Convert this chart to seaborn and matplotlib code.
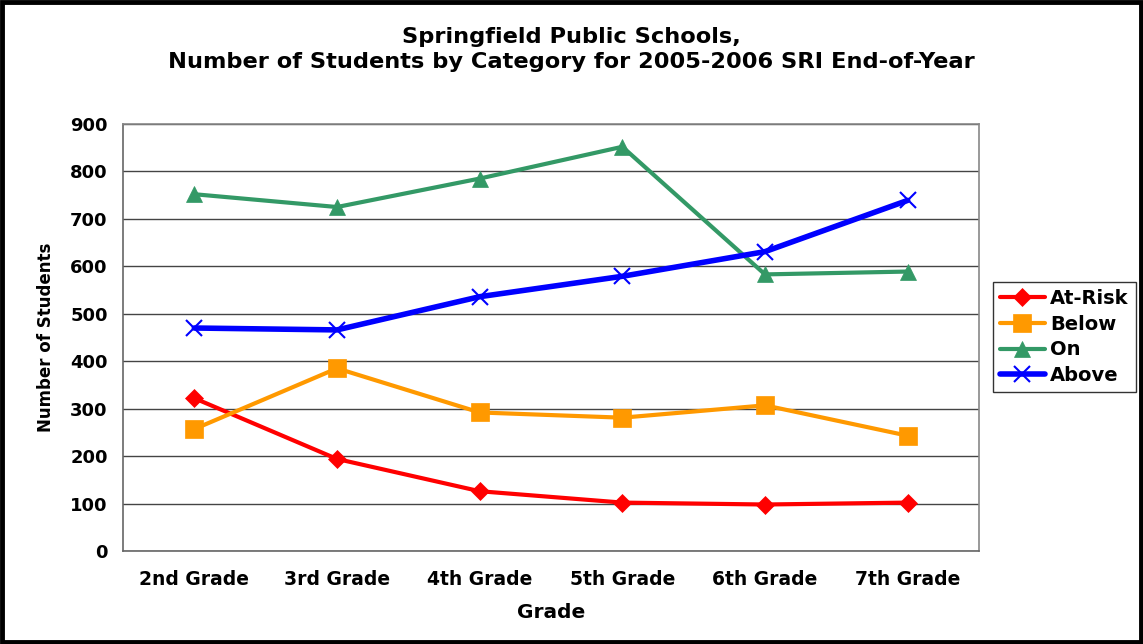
import matplotlib
matplotlib.use("Agg")
import matplotlib.pyplot as plt
import seaborn as sns
import pandas as pd
import numpy as np
from matplotlib.patches import Rectangle

grades = ["2nd Grade", "3rd Grade", "4th Grade", "5th Grade", "6th Grade", "7th Grade"]
at_risk = [322, 194, 126, 102, 98, 102]
below = [257, 385, 292, 281, 307, 243]
on_level = [752, 725, 785, 852, 583, 589]
above = [470, 466, 536, 579, 631, 739]

series_names = ["At-Risk", "Below", "On", "Above"]
series_vals = [at_risk, below, on_level, above]
colors = ["#FF0000", "#FF9900", "#339966", "#0000FF"]
markers = ["D", "s", "^", "x"]
msizes = [9, 12.5, 12, 12]
lws = [3, 3, 3, 4]

sns.set_style("white")
plt.rcParams['font.family'] = ['DejaVu Sans']
plt.rcParams['text.color'] = 'black'
plt.rcParams['axes.labelcolor'] = 'black'
plt.rcParams['xtick.color'] = 'black'
plt.rcParams['ytick.color'] = 'black'

fig = plt.figure(figsize=(11.43, 6.44), dpi=100)
ax = fig.add_axes([123/1143, 1-551/644, (979-123)/1143, (551-124)/644])

for name, vals, c, m, ms, lw in zip(series_names, series_vals, colors, markers, msizes, lws):
    df = pd.DataFrame({"x": np.arange(len(grades)), "y": vals})
    sns.lineplot(data=df, x="x", y="y", ax=ax, color=c, marker=m, markersize=ms,
                 linewidth=lw, label=name, markeredgecolor=c,
                 markeredgewidth=(1.5 if m == "x" else 0.5))

ax.set_xlim(-0.5, 5.5)
ax.set_ylim(0, 900)
ax.set_yticks(np.arange(0, 901, 100))
ax.set_xticks(np.arange(len(grades)))
ax.set_xticklabels(grades, fontsize=13.5, fontweight="bold")
ax.set_xticks(np.arange(-0.5, 6, 1), minor=True)
ax.tick_params(axis="x", which="major", length=0, pad=14, labelcolor="black")
ax.tick_params(axis="x", which="minor", length=6, color="#666666", direction="out")
ax.tick_params(axis="y", length=6, color="#666666", direction="out", pad=5, labelcolor="black")
for lab in ax.get_yticklabels():
    lab.set_fontsize(13)
    lab.set_fontweight("bold")
ax.yaxis.grid(True, color="#444444", linewidth=1)
ax.set_axisbelow(True)
for s in ax.spines.values():
    s.set_color("#888888")
    s.set_linewidth(1.2)
ax.spines["left"].set_color("#666666")
ax.spines["bottom"].set_color("#666666")

ax.set_xlabel("Grade", fontsize=14.5, fontweight="bold", labelpad=10)
ax.set_ylabel("Number of Students", fontsize=12, fontweight="bold", labelpad=11)

fig.text(0.5, 1-37/644, "Springfield Public Schools,", ha="center", va="center",
         fontsize=16.2, fontweight="bold")
fig.text(0.5, 1-62/644, "Number of Students by Category for 2005-2006 SRI End-of-Year",
         ha="center", va="center", fontsize=16.2, fontweight="bold")

leg = ax.legend(loc="upper left", bbox_to_anchor=(993/1143, 1-282/644),
                bbox_transform=fig.transFigure, frameon=True, fancybox=False,
                prop={"family": "DejaVu Sans", "weight": "bold", "size": 14},
                handlelength=2.3, handletextpad=0.3, labelspacing=0.35,
                borderpad=0.35, borderaxespad=0)
leg.get_frame().set_edgecolor("black")
leg.get_frame().set_linewidth(1)

fig.patches.append(Rectangle((0.002, 0.003), 0.996, 0.994, transform=fig.transFigure,
                             fill=False, edgecolor="black", linewidth=3.5))

fig.savefig("out.png", dpi=100)
